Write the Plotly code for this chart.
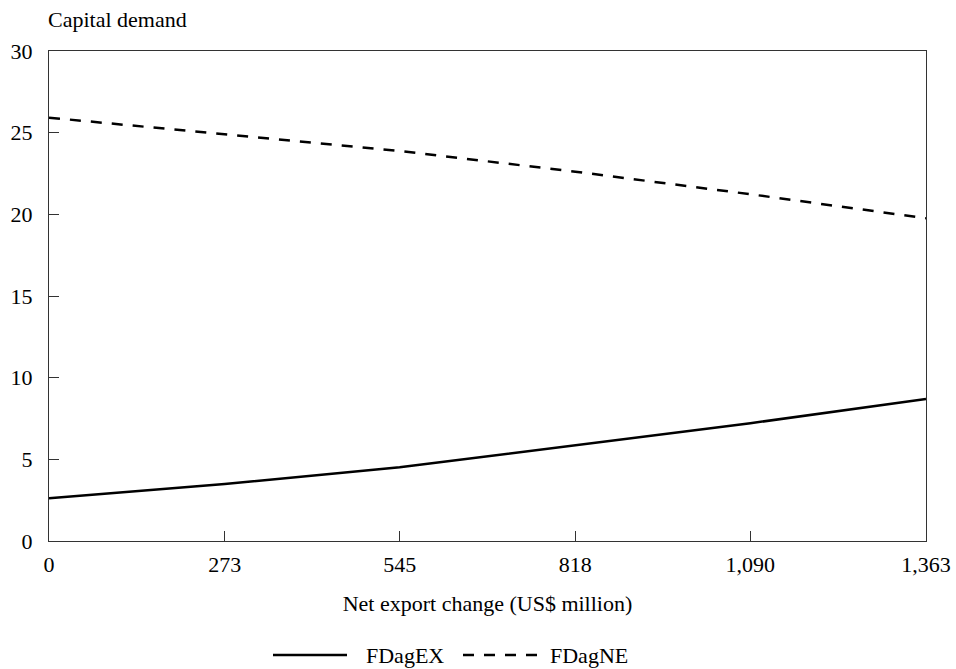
import plotly.graph_objects as go

# Data
net_export = [0, 273, 545, 818, 1090, 1363]
tick_labels = ["0", "273", "545", "818", "1,090", "1,363"]
fdag_ex = [2.61, 3.49, 4.51, 5.84, 7.21, 8.70]
fdag_ne = [25.92, 24.92, 23.88, 22.61, 21.23, 19.76]
series_names = ["FDagEX", "FDagNE"]

FONT = "Liberation Serif"
FS = 22

fig = go.Figure()
fig.add_trace(go.Scatter(x=net_export, y=fdag_ex, mode="lines", name=series_names[0],
                         line=dict(color="black", width=2.5), showlegend=False))
fig.add_trace(go.Scatter(x=net_export, y=fdag_ne, mode="lines", name=series_names[1],
                         line=dict(color="black", width=2.5, dash="11px,10px"), showlegend=False))

axis_line = dict(showline=True, linecolor="#333333", linewidth=1.3, mirror=True,
                 ticks="inside", ticklen=10, tickwidth=1.3, tickcolor="#333333",
                 showgrid=False, zeroline=False, automargin=False)

fig.update_xaxes(range=[0, 1363], tickvals=net_export, ticktext=tick_labels,
                 title=dict(text="Net export change (US$ million)", standoff=20,
                            font=dict(family=FONT, size=FS, color="black")),
                 tickfont=dict(family=FONT, size=FS, color="black"),
                 ticklabelstandoff=3, **axis_line)
fig.update_yaxes(range=[0, 30], tickvals=[0, 5, 10, 15, 20, 25, 30],
                 tickfont=dict(family=FONT, size=FS, color="black"),
                 ticklabelstandoff=11, **axis_line)

# Manual legend (long line samples as in the reference)
ly = (541 - 655) / 490
def px(x):
    return (x - 49) / 877

shapes = [
    dict(type="line", xref="paper", yref="paper", x0=px(273), x1=px(347), y0=ly, y1=ly,
         line=dict(color="black", width=2.5)),
    dict(type="line", xref="paper", yref="paper", x0=px(463), x1=px(537), y0=ly, y1=ly,
         line=dict(color="black", width=2.5, dash="11px,10px")),
]
annotations = [
    dict(text=series_names[0], xref="paper", yref="paper", x=px(364), y=ly, xanchor="left",
         yanchor="middle", showarrow=False, font=dict(family=FONT, size=FS, color="black")),
    dict(text=series_names[1], xref="paper", yref="paper", x=px(548), y=ly, xanchor="left",
         yanchor="middle", showarrow=False, font=dict(family=FONT, size=FS, color="black")),
    dict(text="Capital demand", xref="paper", yref="paper", x=px(46), y=(541 - 19) / 490,
         xanchor="left", yanchor="middle", showarrow=False,
         font=dict(family=FONT, size=FS, color="black")),
]

fig.update_layout(width=956, height=669, margin=dict(l=49, r=30, t=51, b=128, autoexpand=False),
                  paper_bgcolor="white", plot_bgcolor="white",
                  font=dict(family=FONT, size=FS, color="black"),
                  shapes=shapes, annotations=annotations, showlegend=False)

# remove the default page margin so the 956x669 figure fills the window exactly
fig.write_html("out.html", config={"displayModeBar": False},
               post_script="document.body.style.margin='0';document.body.style.overflow='hidden';")
